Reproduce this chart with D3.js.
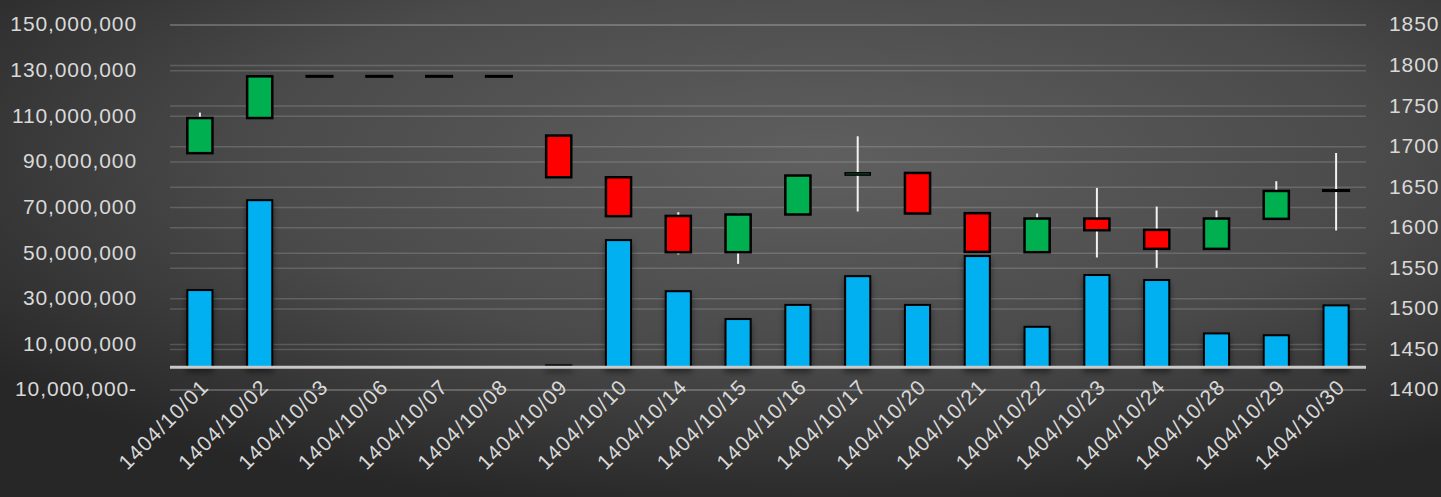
<!DOCTYPE html>
<html>
<head>
<meta charset="utf-8">
<script src="https://cdn.jsdelivr.net/npm/d3@7"></script>
<style>
  html, body { margin: 0; padding: 0; background: #2a2a2a; }
  svg { display: block; }
  text { font-family: "Liberation Sans", Arial, sans-serif; fill: #d9d9d9; }
</style>
</head>
<body>
<svg id="chart" width="1441" height="497"></svg>
<script>
// ---- data ----
const dates = ["1404/10/01","1404/10/02","1404/10/03","1404/10/06","1404/10/07","1404/10/08","1404/10/09","1404/10/10","1404/10/14","1404/10/15","1404/10/16","1404/10/17","1404/10/20","1404/10/21","1404/10/22","1404/10/23","1404/10/24","1404/10/28","1404/10/29","1404/10/30"];
const volume = [33800000, 73200000, 0, 0, 0, 0, 800000, 55700000, 33300000, 21100000, 27300000, 39900000, 27300000, 48700000, 17700000, 40400000, 38200000, 14800000, 14000000, 27100000];
const openP  = [1692, 1735.3, 1786.7, 1786.7, 1786.7, 1786.7, 1713.7, 1662.3, 1614.6, 1569.9, 1616.4, 1665.0, 1667.6, 1618, 1569.9, 1611.4, 1597.4, 1574, 1611, 1645.9];
const closeP = [1735.3, 1786.7, 1786.7, 1786.7, 1786.7, 1786.7, 1662.3, 1614.3, 1569.9, 1616.4, 1664.4, 1667.8, 1617.6, 1570.3, 1611.4, 1597, 1574, 1611.4, 1645.4, 1645.9];
const highP  = [1742, 1786.7, 1786.7, 1786.7, 1786.7, 1786.7, 1713.7, 1662.3, 1619.2, 1617.6, 1664.4, 1712.8, 1667.6, 1618, 1617.6, 1649.1, 1626.2, 1621.3, 1657.4, 1692.2];
const lowP   = [1692, 1735.3, 1786.7, 1786.7, 1786.7, 1786.7, 1662.3, 1614.3, 1567.1, 1555.5, 1616.4, 1620.1, 1617.6, 1570.3, 1569.9, 1563.4, 1550.6, 1574, 1611, 1596.7];
const leftTicks = [-10000000, 10000000, 30000000, 50000000, 70000000, 90000000, 110000000, 130000000, 150000000];
const leftTickLabels = ["10,000,000-", "10,000,000", "30,000,000", "50,000,000", "70,000,000", "90,000,000", "110,000,000", "130,000,000", "150,000,000"];
const rightTicks = [1400, 1450, 1500, 1550, 1600, 1650, 1700, 1750, 1800, 1850];
const rightTickLabels = ["1400", "1450", "1500", "1550", "1600", "1650", "1700", "1750", "1800", "1850"];

// ---- layout ----
const W = 1441, H = 497;
const plotL = 170, plotR = 1366, plotT = 25, plotB = 390;

const svg = d3.select("#chart");
const defs = svg.append("defs");
const rg = defs.append("radialGradient").attr("id", "bg")
  .attr("cx", 0.57).attr("cy", 0.32).attr("r", 0.72);
rg.append("stop").attr("offset", 0).attr("stop-color", "#5f5f5f");
rg.append("stop").attr("offset", 0.55).attr("stop-color", "#4a4a4a");
rg.append("stop").attr("offset", 1).attr("stop-color", "#272727");

const f = defs.append("filter").attr("id", "shadow")
  .attr("x", "-30%").attr("y", "-30%").attr("width", "160%").attr("height", "160%");
f.append("feDropShadow").attr("dx", 0).attr("dy", 4).attr("stdDeviation", 3)
  .attr("flood-color", "#000").attr("flood-opacity", 0.45);

svg.append("rect").attr("width", W).attr("height", H).attr("fill", "url(#bg)");

const x = d3.scalePoint().domain(dates).range([plotL, plotR]).padding(0.5);
const step = x.step();
const bw = step * 0.42;
const yL = d3.scaleLinear().domain([-10000000, 150000000]).range([plotB, plotT]);
const yR = d3.scaleLinear().domain([1400, 1850]).range([plotB, plotT]);

// gridlines (both axes)
const grid = svg.append("g");
grid.selectAll("line.gl").data(leftTicks).join("line")
  .attr("x1", plotL).attr("x2", plotR)
  .attr("y1", d => yL(d)).attr("y2", d => yL(d))
  .attr("stroke", "rgba(255,255,255,0.16)").attr("stroke-width", 1.5);
grid.selectAll("line.gr").data(rightTicks).join("line")
  .attr("x1", plotL).attr("x2", plotR)
  .attr("y1", d => yR(d)).attr("y2", d => yR(d))
  .attr("stroke", "rgba(255,255,255,0.16)").attr("stroke-width", 1.5);

// axis labels
const leftAxis = svg.append("g").attr("transform", `translate(137,0)`)
  .call(d3.axisLeft(yL).tickValues(leftTicks).tickSize(0).tickPadding(0)
    .tickFormat((d, i) => leftTickLabels[i]));
leftAxis.select(".domain").remove();
leftAxis.selectAll("text").attr("font-size", 21).attr("letter-spacing", "0.9px")
  .attr("fill", "#d9d9d9").attr("font-family", "Liberation Sans, Arial, sans-serif")
  .attr("dy", "0.28em");

const rightAxis = svg.append("g").attr("transform", `translate(1389,0)`)
  .call(d3.axisRight(yR).tickValues(rightTicks).tickSize(0).tickPadding(0)
    .tickFormat((d, i) => rightTickLabels[i]));
rightAxis.select(".domain").remove();
rightAxis.selectAll("text").attr("font-size", 21).attr("letter-spacing", "0.9px")
  .attr("fill", "#d9d9d9").attr("font-family", "Liberation Sans, Arial, sans-serif")
  .attr("dy", "0.28em");

// volume bars
const idx = d3.range(dates.length);
svg.append("g").attr("filter", "url(#shadow)")
  .selectAll("rect").data(idx.filter(i => volume[i] > 0)).join("rect")
  .attr("x", i => x(dates[i]) - bw / 2)
  .attr("width", bw)
  .attr("y", i => yL(volume[i]))
  .attr("height", i => yL(0) - yL(volume[i]))
  .attr("fill", "#00b0f0")
  .attr("stroke", "#000").attr("stroke-width", 2);

// baseline
svg.append("line").attr("x1", plotL).attr("x2", plotR)
  .attr("y1", yL(0)).attr("y2", yL(0))
  .attr("stroke", "#c8c8c8").attr("stroke-width", 3);

// candles
const cg = svg.append("g");
cg.selectAll("line.wick").data(idx.filter(i => highP[i] !== lowP[i])).join("line")
  .attr("x1", i => x(dates[i])).attr("x2", i => x(dates[i]))
  .attr("y1", i => yR(highP[i])).attr("y2", i => yR(lowP[i]))
  .attr("stroke", "#f2f2f2").attr("stroke-width", 2);
cg.selectAll("rect.body").data(idx).join("rect")
  .attr("x", i => x(dates[i]) - bw / 2)
  .attr("width", bw)
  .attr("y", i => yR(Math.max(openP[i], closeP[i])))
  .attr("height", i => Math.max(0.01, Math.abs(yR(openP[i]) - yR(closeP[i]))))
  .attr("fill", i => closeP[i] > openP[i] ? (closeP[i] - openP[i] < 4 ? "#0f6b3c" : "#00b050") : (closeP[i] < openP[i] ? "#ff0000" : "#000"))
  .attr("stroke", "#000")
  .attr("stroke-width", i => {
    const d = Math.abs(closeP[i] - openP[i]);
    return d === 0 ? 3 : (d < 4 ? 1.5 : 2.5);
  });

// x labels
const xl = svg.append("g");
xl.selectAll("text").data(dates).join("text")
  .attr("transform", d => `translate(${x(d) + 5},${383}) rotate(-45)`)
  .attr("text-anchor", "end")
  .attr("dy", "0.35em")
  .attr("font-size", 21)
  .attr("letter-spacing", "1.2px")
  .text(d => d);
</script>
</body>
</html>
